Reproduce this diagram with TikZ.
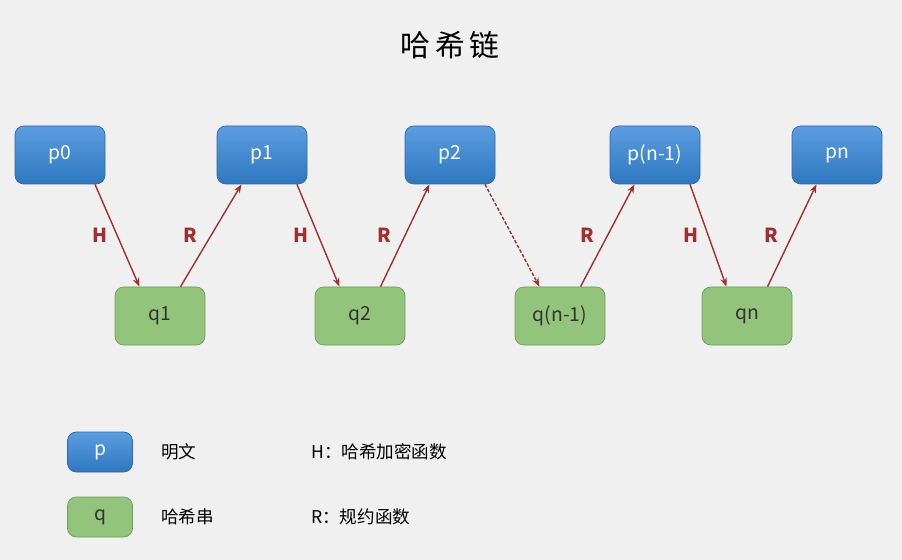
\documentclass[tikz,border=0pt]{standalone}
\usepackage{fontspec}
\setmainfont{Noto Sans CJK SC}
\usetikzlibrary{positioning,arrows.meta}
\definecolor{pblue}{HTML}{3385D6}
\definecolor{pborder}{HTML}{2A68B0}
\definecolor{qgreen}{HTML}{92C47C}
\definecolor{qborder}{HTML}{6E9E5A}
\definecolor{arrowred}{HTML}{A03030}
\tikzset{
  pbox/.style={draw=pborder, top color=pblue!80!white, bottom color=pblue!90!black, rounded corners=5pt,
    minimum width=90*0.02cm, minimum height=58*0.02cm, text=white, font=\fontsize{11}{13}\selectfont},
  qbox/.style={draw=qborder, fill=qgreen, rounded corners=5pt,
    minimum width=90*0.02cm, minimum height=58*0.02cm, text=black!80, font=\fontsize{11}{13}\selectfont},
  link/.style={arrowred, thick, -{Stealth[length=5pt]}},
  lbl/.style={font=\bfseries\fontsize{11}{13}\selectfont},
  legend/.style={font=\fontsize{10}{12}\selectfont, anchor=west}
}
\begin{document}
\begin{tikzpicture}[x=0.02cm, y=-0.02cm]
\fill[black!6] (0,0) rectangle (902,560);
\useasboundingbox (0,0) rectangle (902,560);
% title
\node[font=\fontsize{17}{20}\selectfont] (title) at (450,45) {哈\,希\,链};
% plain texts
\node[pbox] (p0) at (60,155) {p0};
\node[pbox] (p1) at (262,155) {p1};
\node[pbox] (p2) at (450,155) {p2};
\node[pbox] (pn1) at (655,155) {p(n-1)};
\node[pbox] (pn) at (837,155) {pn};
% hashes
\node[qbox] (q1) at (160,316) {q1};
\node[qbox] (q2) at (360,316) {q2};
\node[qbox] (qn1) at (560,316) {q(n-1)};
\node[qbox] (qn) at (747,316) {qn};
% links
\draw[link] (p0.-40) -- node[lbl, left=2pt] {H} (q1.125);
\draw[link] (q1.55) -- node[lbl, left=4pt] {R} (p1.-125);
\draw[link] (p1.-40) -- node[lbl, left=2pt] {H} (q2.125);
\draw[link] (q2.55) -- node[lbl, left=4pt] {R} (p2.-125);
\draw[link, dash pattern=on 2pt off 1pt] (p2.-40) -- (qn1.125);
\draw[link] (qn1.55) -- node[lbl, left=4pt] {R} (pn1.-125);
\draw[link] (pn1.-40) -- node[lbl, left=2pt] {H} (qn.125);
\draw[link] (qn.55) -- node[lbl, left=4pt] {R} (pn.-125);
% legend
\node[pbox, minimum width=65*0.02cm, minimum height=40*0.02cm] (lp) at (100,452) {p};
\node[qbox, minimum width=65*0.02cm, minimum height=40*0.02cm] (lq) at (100,517) {q};
\node[legend] (lpt) at (155,452) {明文};
\node[legend] (lqt) at (155,517) {哈希串};
\node[legend] (lh) at (305,452) {H：哈希加密函数};
\node[legend] (lr) at (305,517) {R：规约函数};
\end{tikzpicture}
\end{document}
